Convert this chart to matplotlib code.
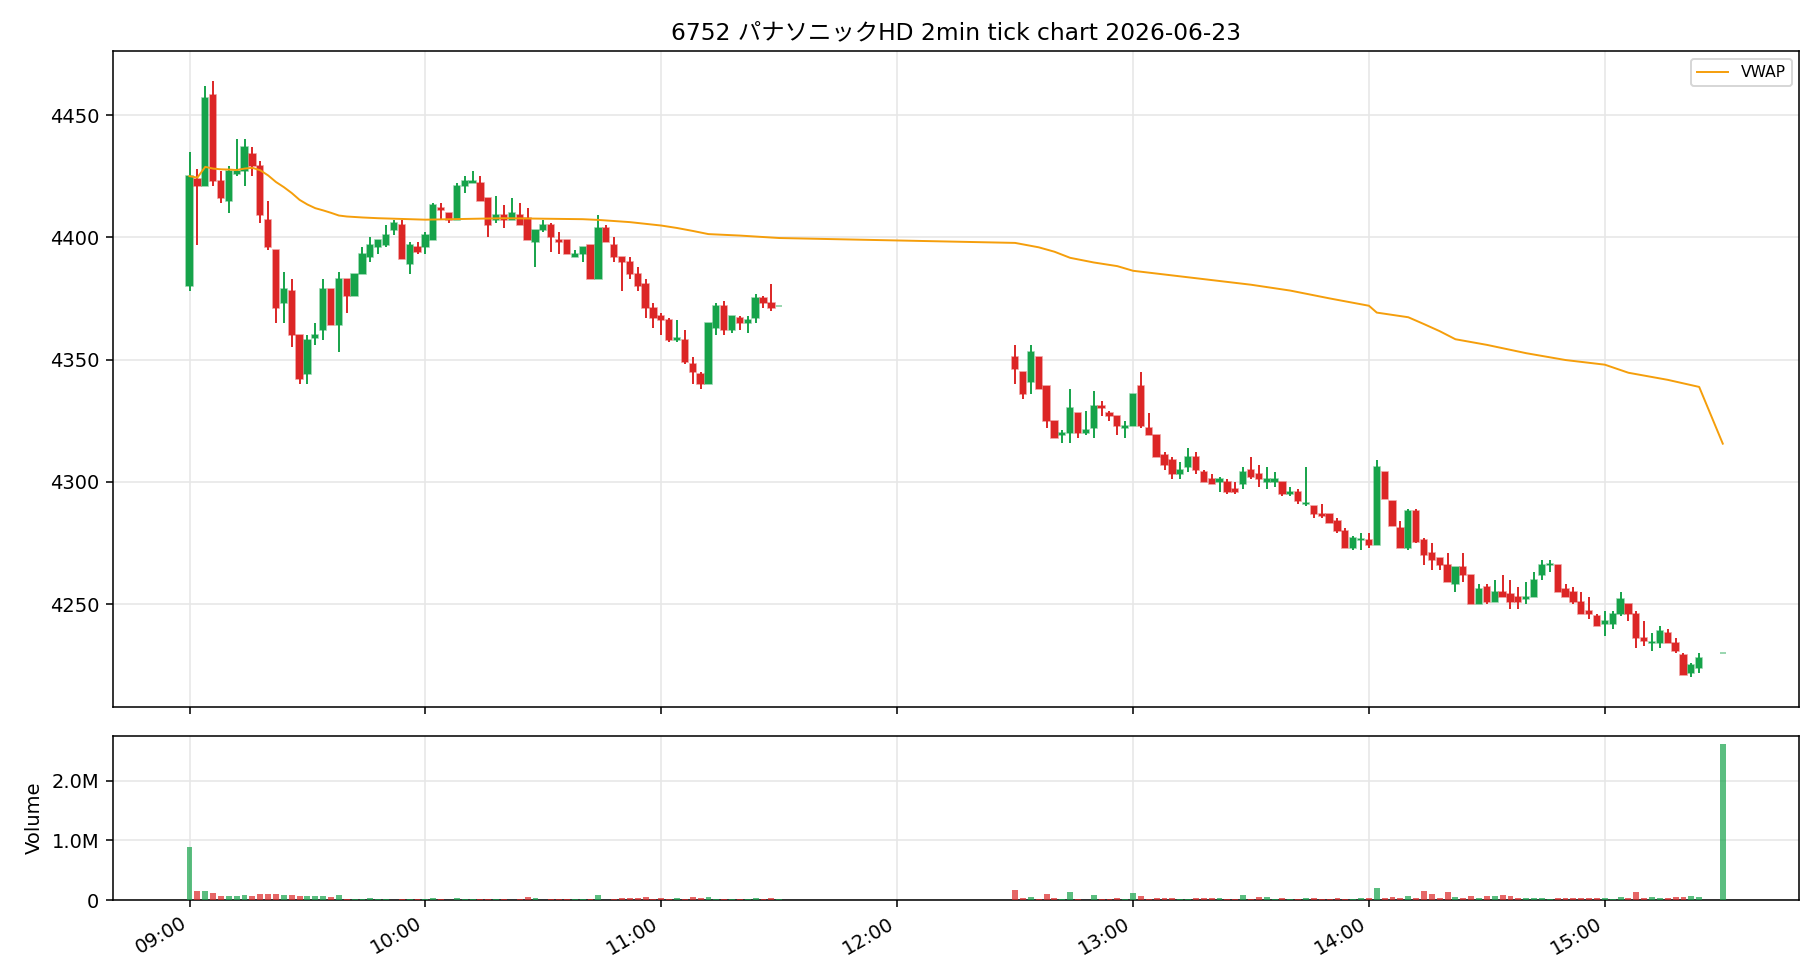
import matplotlib
matplotlib.use("Agg")
import matplotlib.pyplot as plt
import matplotlib.dates as mdates
from matplotlib.colors import to_rgba
from matplotlib.ticker import FuncFormatter, MultipleLocator
import numpy as np
import pandas as pd

plt.rcParams['font.family'] = ['DejaVu Sans', 'Noto Sans CJK JP']

title = "6752 パナソニックHD 2min tick chart 2026-06-23"
day = "2026-06-23"

# morning session 09:00 - 11:30 (2 min bars)
am_open = [4380, 4424, 4421, 4458, 4423, 4415, 4426, 4427, 4434, 4429,
           4407, 4395, 4373, 4378, 4360, 4344, 4359, 4362, 4379, 4364,
           4383, 4376, 4385, 4392, 4396, 4397, 4403, 4405, 4389, 4396,
           4396, 4399, 4412, 4410, 4407, 4421, 4422, 4422, 4416, 4407,
           4409, 4407, 4409, 4408, 4398, 4403, 4405, 4399, 4399, 4392,
           4393, 4397, 4383, 4404, 4397, 4392, 4390, 4385, 4381, 4371,
           4368, 4366, 4358, 4358, 4348, 4344, 4340, 4363, 4372, 4362,
           4367, 4365, 4367, 4375, 4373, 4372]
am_high = [4435, 4428, 4462, 4464, 4427, 4429, 4440, 4440, 4437, 4431,
           4415, 4395, 4386, 4383, 4360, 4360, 4365, 4383, 4379, 4386,
           4383, 4385, 4396, 4400, 4399, 4405, 4407, 4407, 4398, 4398,
           4402, 4414, 4414, 4410, 4422, 4425, 4427, 4425, 4416, 4417,
           4413, 4416, 4414, 4412, 4403, 4407, 4406, 4402, 4399, 4395,
           4396, 4397, 4409, 4405, 4400, 4392, 4392, 4388, 4383, 4373,
           4369, 4367, 4366, 4362, 4351, 4345, 4365, 4373, 4374, 4368,
           4368, 4368, 4377, 4376, 4381, 4372]
am_low = [4378, 4397, 4421, 4421, 4414, 4410, 4425, 4421, 4425, 4406,
          4395, 4365, 4365, 4355, 4340, 4340, 4356, 4358, 4364, 4353,
          4369, 4376, 4385, 4390, 4393, 4396, 4401, 4391, 4385, 4393,
          4393, 4399, 4407, 4406, 4407, 4418, 4422, 4415, 4400, 4406,
          4404, 4407, 4405, 4399, 4388, 4402, 4394, 4393, 4393, 4392,
          4390, 4383, 4383, 4398, 4390, 4378, 4383, 4378, 4367, 4363,
          4360, 4357, 4357, 4348, 4340, 4338, 4340, 4360, 4360, 4361,
          4362, 4361, 4365, 4371, 4370, 4372]
am_close = [4425, 4421, 4457, 4423, 4416, 4427, 4427, 4437, 4429, 4409,
            4396, 4371, 4379, 4360, 4342, 4358, 4360, 4379, 4364, 4383,
            4376, 4385, 4393, 4397, 4399, 4401, 4406, 4391, 4397, 4394,
            4401, 4413, 4411, 4407, 4421, 4423, 4423, 4415, 4405, 4409,
            4407, 4410, 4405, 4399, 4403, 4405, 4400, 4398, 4393, 4393,
            4396, 4383, 4404, 4398, 4392, 4390, 4385, 4380, 4371, 4367,
            4366, 4358, 4359, 4349, 4345, 4340, 4365, 4372, 4362, 4368,
            4365, 4366, 4375, 4373, 4371, 4372]
am_volume_k = [880, 157, 157, 124, 73, 73, 73, 90, 73, 107,
               107, 107, 90, 90, 73, 73, 73, 73, 56, 90,
               22, 22, 22, 39, 22, 22, 8, 22, 22, 22,
               22, 39, 22, 8, 39, 22, 22, 22, 22, 22,
               22, 8, 22, 56, 39, 8, 11, 22, 11, 11,
               22, 22, 90, 8, 22, 39, 39, 39, 56, 22,
               39, 22, 39, 22, 56, 39, 56, 11, 22, 11,
               22, 22, 39, 22, 39, 11]

# afternoon session 12:30 - 15:24, then closing auction at 15:30
pm_open = [4351, 4345, 4341, 4351, 4339, 4325, 4319, 4320, 4328, 4320,
           4322, 4331, 4328, 4327, 4322, 4323, 4339, 4322, 4319, 4311,
           4309, 4303, 4306, 4310, 4304, 4301, 4300, 4300, 4297, 4299,
           4305, 4303, 4300, 4300, 4300, 4295, 4296, 4291, 4290, 4287,
           4287, 4284, 4280, 4273, 4276, 4276, 4274, 4304, 4292, 4281,
           4273, 4288, 4276, 4271, 4269, 4266, 4258, 4265, 4262, 4250,
           4257, 4251, 4255, 4254, 4253, 4252, 4253, 4262, 4266, 4266,
           4256, 4255, 4251, 4247, 4245, 4242, 4242, 4246, 4250, 4246,
           4236, 4234, 4234, 4238, 4234, 4229, 4222, 4224, 4230]
pm_high = [4356, 4345, 4356, 4351, 4339, 4325, 4321, 4338, 4328, 4329,
           4337, 4333, 4329, 4327, 4325, 4336, 4345, 4328, 4319, 4312,
           4310, 4308, 4314, 4312, 4305, 4303, 4302, 4301, 4300, 4306,
           4310, 4307, 4306, 4304, 4300, 4298, 4297, 4306, 4290, 4291,
           4287, 4285, 4281, 4278, 4279, 4279, 4309, 4304, 4292, 4284,
           4289, 4289, 4277, 4275, 4269, 4271, 4265, 4271, 4262, 4258,
           4258, 4260, 4262, 4260, 4257, 4259, 4263, 4268, 4268, 4266,
           4258, 4257, 4255, 4253, 4246, 4247, 4247, 4255, 4250, 4247,
           4243, 4238, 4241, 4240, 4236, 4230, 4226, 4230, 4230]
pm_low = [4340, 4334, 4336, 4338, 4322, 4318, 4316, 4316, 4318, 4319,
          4318, 4327, 4325, 4319, 4318, 4323, 4322, 4319, 4310, 4305,
          4301, 4301, 4304, 4303, 4300, 4299, 4296, 4295, 4295, 4297,
          4301, 4298, 4297, 4298, 4294, 4294, 4291, 4290, 4285, 4285,
          4283, 4279, 4273, 4272, 4272, 4273, 4274, 4293, 4282, 4273,
          4272, 4275, 4266, 4264, 4264, 4259, 4255, 4259, 4250, 4250,
          4250, 4251, 4253, 4248, 4248, 4250, 4253, 4260, 4263, 4255,
          4253, 4250, 4246, 4244, 4241, 4237, 4240, 4245, 4243, 4232,
          4233, 4231, 4232, 4234, 4230, 4221, 4220, 4222, 4230]
pm_close = [4346, 4336, 4353, 4338, 4325, 4318, 4320, 4330, 4320, 4321,
            4331, 4330, 4327, 4323, 4323, 4336, 4323, 4319, 4310, 4307,
            4303, 4305, 4310, 4305, 4300, 4299, 4301, 4296, 4296, 4304,
            4302, 4301, 4301, 4301, 4295, 4296, 4292, 4291.5, 4287, 4286,
            4283, 4280, 4273, 4277, 4276.5, 4274, 4306, 4293, 4282, 4273,
            4288, 4275.5, 4270, 4268, 4266, 4259, 4265, 4262, 4250, 4256,
            4251, 4255, 4253, 4251, 4251, 4253, 4260, 4266, 4266.5, 4255,
            4253, 4251, 4246, 4246, 4241, 4243, 4246, 4252, 4246, 4236,
            4235, 4234.5, 4239, 4234, 4231, 4221, 4225, 4228, 4230]
pm_volume_k = [173, 39, 56, 22, 106, 39, 22, 140, 22, 8,
               90, 22, 22, 39, 22, 123, 73, 22, 39, 39,
               39, 22, 22, 39, 39, 39, 39, 22, 22, 90,
               22, 56, 56, 22, 39, 11, 22, 39, 39, 22,
               22, 39, 22, 22, 39, 39, 207, 39, 56, 39,
               73, 39, 156, 106, 39, 140, 56, 39, 73, 39,
               73, 73, 90, 73, 39, 39, 39, 39, 22, 39,
               39, 39, 39, 39, 39, 39, 22, 56, 39, 140,
               39, 56, 39, 39, 56, 56, 73, 56, 2615]

vwap_times = ["09:00", "09:02", "09:04", "09:06", "09:08", "09:10", "09:12", "09:14",
              "09:16", "09:18", "09:20", "09:22", "09:24", "09:26", "09:28", "09:30",
              "09:32", "09:34", "09:36", "09:38", "09:40", "09:44", "09:48", "10:00",
              "10:20", "10:40", "10:44", "10:52", "11:00", "11:04", "11:08", "11:12",
              "11:20", "11:28", "11:30", "12:30", "12:36", "12:40", "12:44", "12:50",
              "12:56", "13:00", "13:10", "13:20", "13:30", "13:40", "13:50", "14:00",
              "14:02", "14:10", "14:14", "14:18", "14:22", "14:30", "14:40", "14:50",
              "15:00", "15:06", "15:16", "15:24", "15:30"]
vwap_values = [4425.0, 4424.4, 4428.8, 4428.1, 4427.8, 4427.7, 4427.5, 4428.1,
               4428.4, 4427.4, 4425.3, 4422.6, 4420.5, 4418.1, 4415.3, 4413.4,
               4411.9, 4411.0, 4410.0, 4408.9, 4408.5, 4408.1, 4407.8, 4407.2,
               4407.8, 4407.4, 4407.1, 4406.2, 4404.8, 4403.8, 4402.6, 4401.3,
               4400.7, 4399.9, 4399.7, 4397.7, 4395.9, 4394.1, 4391.6, 4389.7,
               4388.2, 4386.3, 4384.4, 4382.5, 4380.6, 4378.2, 4375.0, 4372.0,
               4369.2, 4367.3, 4364.5, 4361.6, 4358.3, 4356.0, 4352.6, 4349.8,
               4347.9, 4344.6, 4341.7, 4338.8, 4315.6]

UP = '#16a34a'
DOWN = '#dc2626'
VWAP_COLOR = '#f59e0b'

am_times = pd.date_range(f"{day} 09:00", f"{day} 11:30", freq="2min")
pm_times = pd.date_range(f"{day} 12:30", f"{day} 15:24", freq="2min").append(
    pd.DatetimeIndex([f"{day} 15:30"]))
times = am_times.append(pm_times)

o = np.array(am_open + pm_open, dtype=float)
h = np.array(am_high + pm_high, dtype=float)
l = np.array(am_low + pm_low, dtype=float)
c = np.array(am_close + pm_close, dtype=float)
vol = np.array(am_volume_k + pm_volume_k, dtype=float) * 1000

x = mdates.date2num(times.to_pydatetime())
vx = mdates.date2num(pd.to_datetime([f"{day} {t}" for t in vwap_times]).to_pydatetime())
minute = 1 / 1440
up = c >= o
colors = np.where(up, UP, DOWN)

fig, (ax, axv) = plt.subplots(2, 1, figsize=(13, 7), dpi=140, sharex=True,
                              gridspec_kw={'height_ratios': [4, 1], 'hspace': 0.07})

# candles
ax.vlines(x, l, h, colors=colors, linewidth=1.0, zorder=2)
body_bottom = np.minimum(o, c)
body_height = np.abs(c - o)
edge = [to_rgba(col, 0.55) for col in colors]
ax.bar(x, body_height, bottom=body_bottom, width=1.6 * minute, color=colors,
       edgecolor=edge, linewidth=0.8, zorder=3)
ax.plot(vx, vwap_values, color=VWAP_COLOR, linewidth=1.0, label='VWAP', zorder=4)
ax.set_title(title, fontsize=12)
ax.grid(True, color='#e6e6e6', linewidth=0.8)
ax.set_axisbelow(True)
ax.legend(loc='upper right', fontsize=8)

# volume
axv.bar(x, vol, width=1.5 * minute, color=colors, alpha=0.7, zorder=3)
axv.set_ylabel('Volume')
axv.yaxis.set_major_locator(MultipleLocator(1e6))
axv.yaxis.set_major_formatter(FuncFormatter(lambda v, p: '0' if v == 0 else f'{v / 1e6:.1f}M'))
axv.grid(True, color='#e6e6e6', linewidth=0.8)
axv.set_axisbelow(True)

axv.xaxis.set_major_locator(mdates.HourLocator())
axv.xaxis.set_major_formatter(mdates.DateFormatter('%H:%M'))
span = x[-1] - x[0]
axv.set_xlim(x[0] - 0.05 * span, x[-1] + 0.05 * span)
fig.autofmt_xdate()
fig.subplots_adjust(left=0.062, right=0.9887, top=0.948, bottom=0.0816)

fig.savefig('out.png', dpi=140)
